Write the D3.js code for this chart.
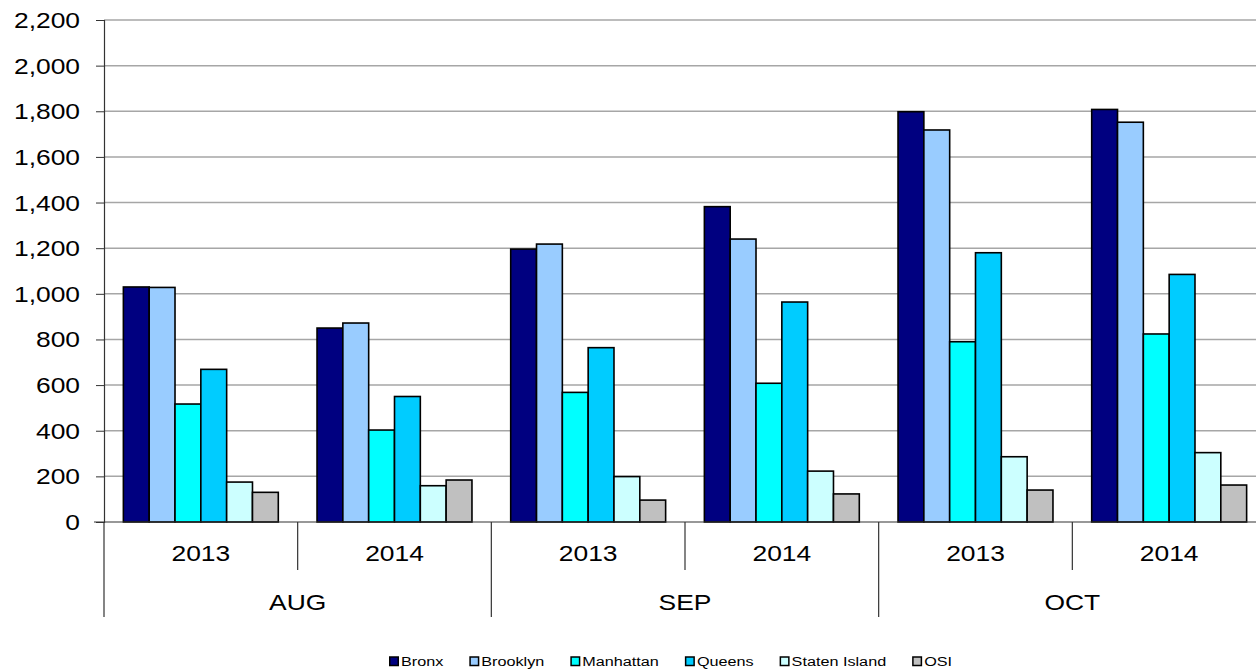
<!DOCTYPE html>
<html>
<head>
<meta charset="utf-8">
<script src="https://cdn.jsdelivr.net/npm/d3@7"></script>
<style>
  body { margin: 0; background: #fff; }
  text { font-family: "Liberation Sans", Arial, sans-serif; fill: #000; }
</style>
</head>
<body>
<svg id="viz"></svg>
<script>
const months = ['AUG', 'SEP', 'OCT'];
const years = ['2013', '2014'];
const boroughs = ['Bronx', 'Brooklyn', 'Manhattan', 'Queens', 'Staten Island', 'OSI'];
const colors = ['#000080', '#99CCFF', '#00FFFF', '#00CCFF', '#CCFFFF', '#C0C0C0'];
const yTicks = [0, 200, 400, 600, 800, 1000, 1200, 1400, 1600, 1800, 2000, 2200];

// one row per month/year, values in borough order
const values = [
  [1030, 1028, 517, 669, 175, 130],   // AUG 2013
  [850, 872, 403, 550, 159, 184],     // AUG 2014
  [1196, 1218, 568, 764, 199, 96],    // SEP 2013
  [1382, 1240, 608, 964, 223, 123],   // SEP 2014
  [1798, 1718, 790, 1180, 286, 140],  // OCT 2013
  [1808, 1752, 824, 1085, 304, 162]   // OCT 2014
];

const width = 1256, height = 672;
const plotL = 104, plotR = 1266, plotT = 20, plotB = 522;
const SX = 1.2; // the picture is stretched sideways, text too

const svg = d3.select('#viz').attr('width', width).attr('height', height);

const groups = [];
months.forEach(function (m) {
  years.forEach(function (y) { groups.push(m + ' ' + y); });
});

const x = d3.scaleBand().domain(groups).range([plotL, plotR]).paddingInner(0).paddingOuter(0);
const xInner = d3.scaleBand().domain(boroughs)
  .range([x.bandwidth() * 0.75 / 7.5, x.bandwidth() - x.bandwidth() * 0.75 / 7.5]);
const y = d3.scaleLinear().domain([0, 2200]).range([plotB, plotT]);

function label(parent, tx, ty, str, size, anchor) {
  return parent.append('text')
    .attr('transform', 'translate(' + tx + ',' + ty + ') scale(' + SX + ',1)')
    .attr('text-anchor', anchor || 'middle')
    .style('font-size', size + 'px')
    .text(str);
}

// gridlines
svg.append('g')
  .selectAll('line')
  .data(yTicks.filter(function (d) { return d > 0; }))
  .enter().append('line')
  .attr('x1', plotL).attr('x2', plotR)
  .attr('y1', function (d) { return y(d); })
  .attr('y2', function (d) { return y(d); })
  .attr('stroke', '#a6a6a6')
  .attr('stroke-width', 1.5);

// y axis
const yAxis = svg.append('g')
  .attr('transform', 'translate(' + plotL + ',0)')
  .call(d3.axisLeft(y).tickValues(yTicks).tickSize(8).tickFormat(''));
yAxis.selectAll('line').attr('stroke', '#333');
yAxis.select('.domain').attr('stroke', '#333').attr('stroke-width', 1.2);
const yl = svg.append('g');
yTicks.forEach(function (t) {
  label(yl, 80, y(t) + 8, d3.format(',')(t), 22, 'end');
});

// bars
const g = svg.append('g')
  .selectAll('g')
  .data(values)
  .enter().append('g')
  .attr('transform', function (d, i) { return 'translate(' + x(groups[i]) + ',0)'; });

g.selectAll('rect')
  .data(function (d) { return d.map(function (v, j) { return { key: boroughs[j], value: v, color: colors[j] }; }); })
  .enter().append('rect')
  .attr('x', function (d) { return xInner(d.key); })
  .attr('width', xInner.bandwidth())
  .attr('y', function (d) { return y(d.value); })
  .attr('height', function (d) { return y(0) - y(d.value); })
  .attr('fill', function (d) { return d.color; })
  .attr('stroke', '#000')
  .attr('stroke-width', 1.6);

// x axis base line
svg.append('line')
  .attr('x1', plotL - 10).attr('x2', plotR)
  .attr('y1', plotB).attr('y2', plotB)
  .attr('stroke', '#333').attr('stroke-width', 1.2);

// year labels and dividers
const xa = svg.append('g');
groups.forEach(function (gname, i) {
  const x0 = x(gname);
  label(xa, x0 + x.bandwidth() / 2, 561, years[i % 2], 22);
  if (i % 2 === 1) {
    xa.append('line')
      .attr('x1', x0).attr('x2', x0)
      .attr('y1', plotB).attr('y2', 570)
      .attr('stroke', '#333').attr('stroke-width', 1.2);
  }
});

// month labels and dividers
months.forEach(function (m) {
  const x0 = x(m + ' 2013');
  label(xa, x0 + x.bandwidth(), 610, m, 22);
  xa.append('line')
    .attr('x1', x0).attr('x2', x0)
    .attr('y1', plotB).attr('y2', 617)
    .attr('stroke', '#333').attr('stroke-width', 1.2);
});
xa.append('line')
  .attr('x1', plotR).attr('x2', plotR)
  .attr('y1', plotB).attr('y2', 617)
  .attr('stroke', '#333').attr('stroke-width', 1.2);

// legend
const legend = svg.append('g').attr('transform', 'translate(389,666)');
let lx = 0;
boroughs.forEach(function (b, i) {
  const it = legend.append('g').attr('transform', 'translate(' + lx + ',0)');
  it.append('rect')
    .attr('x', 0.75).attr('y', -9)
    .attr('width', 8.5).attr('height', 8.5)
    .attr('fill', colors[i])
    .attr('stroke', '#000').attr('stroke-width', 1.5);
  const t = label(it, 12, 0, b, 13.5, 'start');
  lx += 12 + t.node().getComputedTextLength() * SX + 26;
});
</script>
</body>
</html>
